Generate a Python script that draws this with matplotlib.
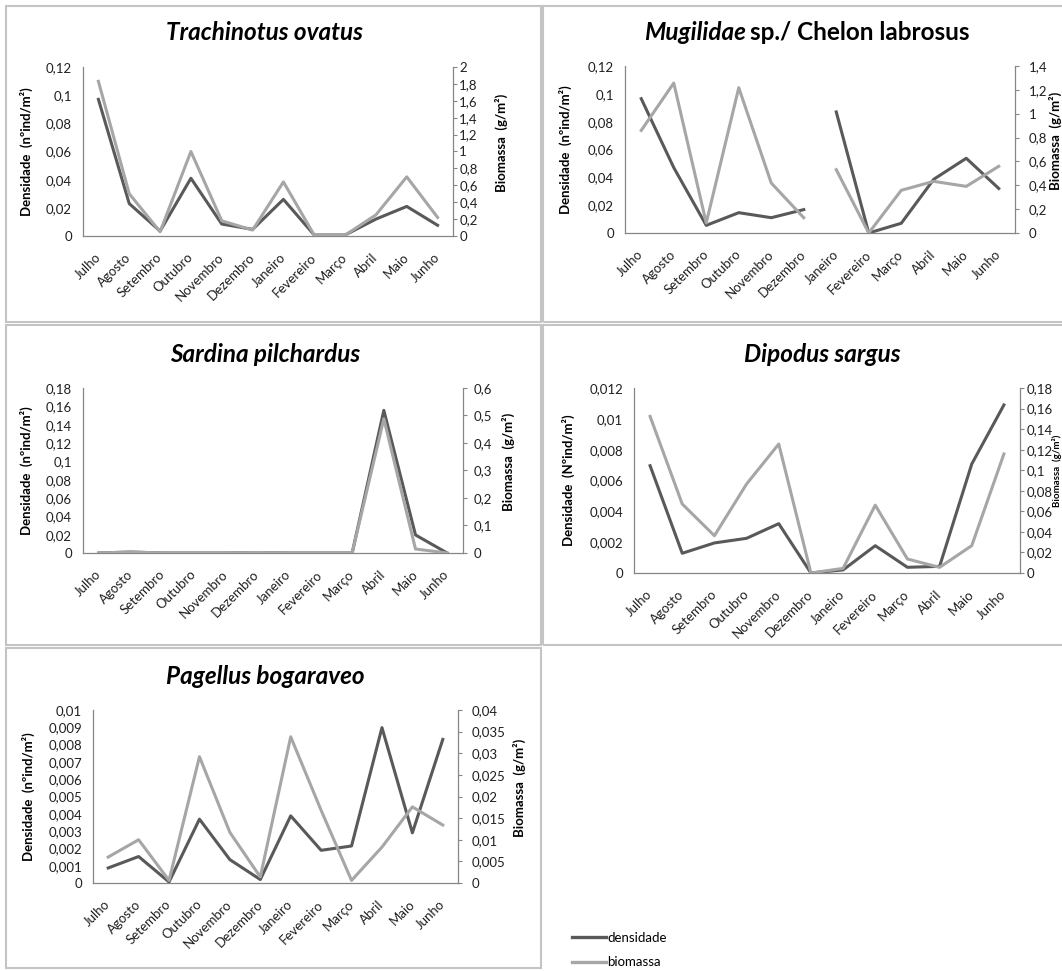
import matplotlib.pyplot as plt
from matplotlib.lines import Line2D
from matplotlib.patches import Rectangle
from matplotlib.ticker import FuncFormatter, MultipleLocator

plt.rcParams['font.family'] = ['Lato', 'DejaVu Sans']

meses = ['Julho', 'Agosto', 'Setembro', 'Outubro', 'Novembro', 'Dezembro',
         'Janeiro', 'Fevereiro', 'Março', 'Abril', 'Maio', 'Junho']

# valores
trach_dens = [0.097, 0.023, 0.0035, 0.041, 0.0085, 0.0047, 0.026, 0.0007, 0.0007, 0.012, 0.021, 0.0076]
trach_bio = [1.83, 0.50, 0.05, 1.0, 0.18, 0.07, 0.64, 0.01, 0.01, 0.25, 0.70, 0.22]

mug_dens = [0.0965, 0.047, 0.0055, 0.0146, 0.011, 0.0168, 0.087, 0.0, 0.007, 0.0386, 0.0537, 0.032]
mug_bio = [0.86, 1.257, 0.084, 1.218, 0.419, 0.128, 0.531, 0.0, 0.358, 0.433, 0.391, 0.559]
mug_quebra = 6  # a linha interrompe entre Dezembro e Janeiro

sard_dens = [0.0, 0.001, 0.0, 0.0, 0.0, 0.0005, 0.0, 0.0, 0.0, 0.1556, 0.0197, 0.0]
sard_bio = [0.0, 0.004, 0.0, 0.0, 0.0, 0.002, 0.0, 0.0, 0.0, 0.488, 0.0146, 0.0]

dip_dens = [0.00696, 0.00128, 0.00195, 0.00225, 0.0032, 0.0, 0.0002, 0.00177, 0.00037, 0.00043, 0.00707, 0.0109]
dip_bio = [0.1524, 0.0671, 0.0363, 0.0866, 0.1255, 0.0, 0.0045, 0.066, 0.0136, 0.0055, 0.0266, 0.1158]

pag_dens = [0.00087, 0.00153, 0.00006, 0.00369, 0.00135, 0.0002, 0.00388, 0.00189, 0.00214, 0.00898, 0.0029, 0.0083]
pag_bio = [0.006, 0.010, 0.0006, 0.0292, 0.0117, 0.0014, 0.0338, 0.0168, 0.0006, 0.0083, 0.0176, 0.0134]

W, H = 1062, 971
fig = plt.figure(figsize=(W / 100, H / 100), dpi=100)

cor_dens = '#595959'
cor_bio = '#a6a6a6'
cor_eixo = '#868686'
cor_txt = '#202020'

virg = FuncFormatter(lambda v, p: ('%g' % round(v, 6)).replace('.', ','))


def caixa(l, t, r, b):
    return [l / W, 1 - b / H, (r - l) / W, (b - t) / H]


# molduras dos paineis
for l, t, r, b in [(6, 6, 541, 322), (543, 6, 1075, 322), (6, 325, 541, 645),
                   (543, 325, 1075, 645), (6, 648, 541, 968)]:
    fig.patches.append(Rectangle((l / W, 1 - b / H), (r - l) / W, (b - t) / H,
                                 transform=fig.transFigure, fill=False,
                                 edgecolor='#c4c4c4', lw=1.5))

paineis = [
    # titulo, dens, bio, (l,t,r,b), ymax1, passo1, ymax2, passo2, label esq x, label dir x, pad dir, texto dens, fonte dir
    ('Trachinotus ovatus', trach_dens, trach_bio, (83, 67, 453, 236), 0.12, 0.02, 2, 0.2, 33, 495, 1.5, 'nº', 9.5),
    (None, mug_dens, mug_bio, (625, 66, 1015, 233), 0.12, 0.02, 1.4, 0.2, 572, 1049, 7, 'nº', 9.5),
    ('Sardina pilchardus', sard_dens, sard_bio, (83, 388, 463, 553), 0.18, 0.02, 0.6, 0.1, 33, 502, 5, 'nº', 9.5),
    ('Dipodus sargus', dip_dens, dip_bio, (634, 388, 1020, 573), 0.012, 0.002, 0.18, 0.02, 575, 1052, 2, 'Nº', 7),
    ('Pagellus bogaraveo', pag_dens, pag_bio, (93, 710, 458, 883), 0.01, 0.001, 0.04, 0.005, 35, 513, 7, 'nº', 9.5),
]

for titulo, dens, bio, (l, t, r, b), y1, p1, y2, p2, lx, rx, rpad, nn, fs2 in paineis:
    ax = fig.add_axes(caixa(l, t, r, b))
    ax2 = ax.twinx()
    x = list(range(12))
    if dens is mug_dens:
        q = mug_quebra
        ax.plot(x[:q], dens[:q], color=cor_dens, lw=2.2)
        ax.plot(x[q:], dens[q:], color=cor_dens, lw=2.2)
        ax2.plot(x[:q], bio[:q], color=cor_bio, lw=2.2)
        ax2.plot(x[q:], bio[q:], color=cor_bio, lw=2.2)
    else:
        ax.plot(x, dens, color=cor_dens, lw=2.2)
        ax2.plot(x, bio, color=cor_bio, lw=2.2)

    ax.set_xlim(-0.5, 11.5)
    ax.set_ylim(0, y1)
    ax2.set_ylim(0, y2)
    ax.yaxis.set_major_locator(MultipleLocator(p1))
    ax2.yaxis.set_major_locator(MultipleLocator(p2))
    ax.yaxis.set_major_formatter(virg)
    ax2.yaxis.set_major_formatter(virg)

    ax.set_xticks(x)
    ax.set_xticklabels(meses, rotation=45, ha='right', va='center',
                       rotation_mode='anchor')
    ax.tick_params(axis='x', length=0, pad=14, labelsize=9.5, colors=cor_txt)
    ax.tick_params(axis='y', length=0, pad=8, labelsize=9.5, colors=cor_txt)
    ax2.tick_params(axis='y', length=3, width=0.8, color=cor_eixo, pad=rpad,
                    labelsize=9.5, labelcolor=cor_txt)

    for a in (ax, ax2):
        a.spines['top'].set_visible(False)
        for s in ('left', 'right', 'bottom'):
            a.spines[s].set_color(cor_eixo)
            a.spines[s].set_linewidth(0.9)
    ax.spines['right'].set_visible(False)
    ax2.spines['left'].set_visible(False)
    ax2.spines['bottom'].set_visible(False)

    ax.set_ylabel('Densidade  (%sind/m²)' % nn, fontsize=9.5, fontweight='bold')
    ax.yaxis.set_label_coords((lx - l) / (r - l), 0.5)
    ax2.set_ylabel('Biomassa  (g/m²)', fontsize=fs2, fontweight='bold',
                   rotation=90)
    ax2.yaxis.set_label_coords((rx - l) / (r - l), 0.55)

    cx = (l + r) / 2
    if titulo:
        fig.text((cx - 5) / W if l > 600 else 265 / W, 1 - (t - 34) / H, titulo,
                 ha='center', va='center', fontsize=17.5, fontweight='bold',
                 style='italic')

# titulo misto do painel Mugilidae
fig.text(746 / W, 1 - 33 / H, 'Mugilidae', ha='right', va='center', fontsize=17.5,
         fontweight='bold', style='italic')
fig.text(750 / W, 1 - 33 / H, 'sp./ Chelon labrosus', ha='left', va='center',
         fontsize=17.5, fontweight='bold')

h = [Line2D([], [], color=cor_dens, lw=2.4), Line2D([], [], color=cor_bio, lw=2.4)]
fig.legend(h, ['densidade', 'biomassa'], loc='upper left',
           bbox_to_anchor=(560 / W, 1 - 920 / H), frameon=False, fontsize=9.5,
           handlelength=2.6, handletextpad=0.1, labelspacing=0.95)

fig.savefig('out.png', dpi=100, facecolor='white')
